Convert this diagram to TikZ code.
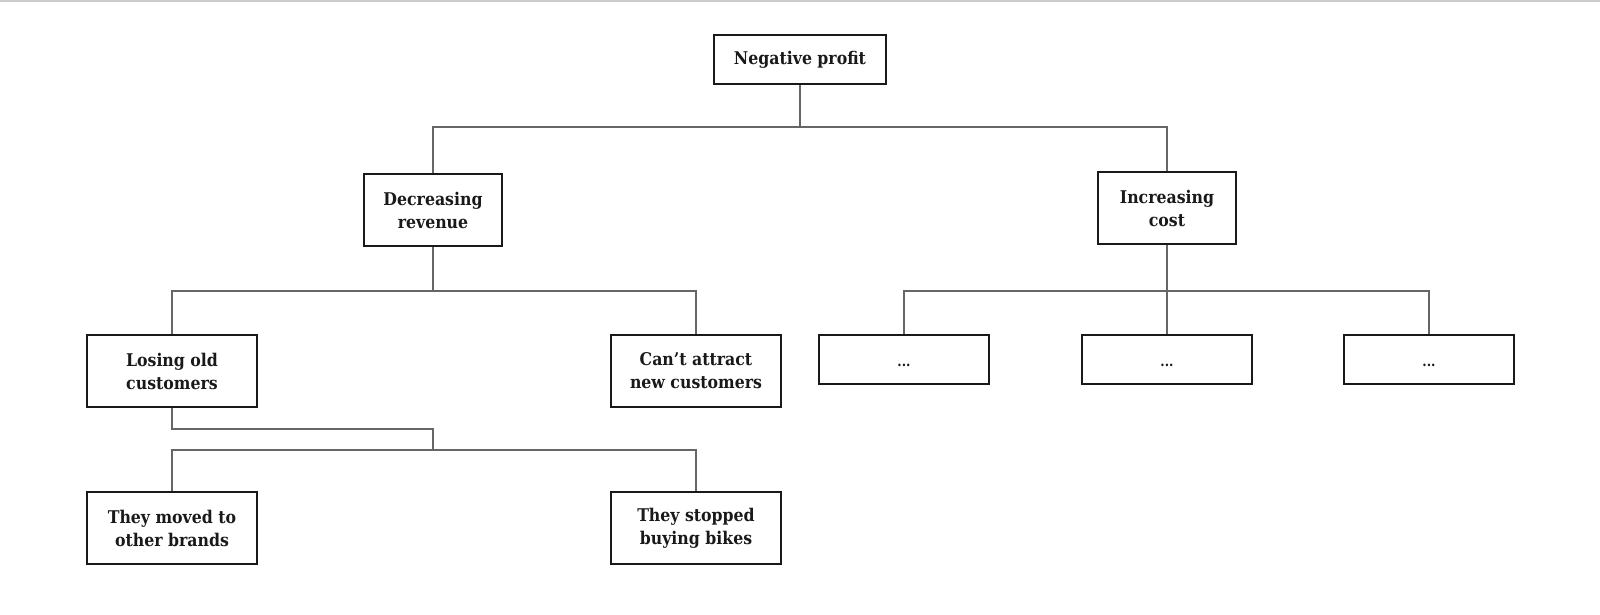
\documentclass[tikz,border=0pt]{standalone}
\usepackage{fontspec}
\setmainfont{DejaVu Serif Condensed}
\begin{document}
\begin{tikzpicture}[x=1pt,y=-1pt,
  box/.style={draw=black!90, line width=1.7pt, fill=white, align=center, inner sep=0pt,
    font=\bfseries\fontsize{17.5}{23}\selectfont, text=black!90},
  dots/.style={box, minimum width=170pt, minimum height=49pt, text height=13pt, text depth=0pt,
    font=\bfseries\fontsize{14}{16}\selectfont},
  conn/.style={draw=black!60, line width=1.7pt}]
\useasboundingbox (0,0) rectangle (1600,615);
\draw[black!20, line width=2pt] (0,1) -- (1600,1);
% nodes
\node[box, minimum width=172pt, minimum height=49pt] (np) at (800,59.5) {Negative profit};
\node[box, minimum width=138pt, minimum height=72pt] (dr) at (433,210) {Decreasing\\revenue};
\node[box, minimum width=138pt, minimum height=72pt] (ic) at (1167,208) {Increasing\\cost};
\node[box, minimum width=170pt, minimum height=72pt] (lo) at (172,371) {Losing old\\customers};
\node[box, minimum width=170pt, minimum height=72pt] (ca) at (696,371) {Can’t attract\\new customers};
\node[dots] (d1) at (904,359.5) {...};
\node[dots] (d2) at (1167,359.5) {...};
\node[dots] (d3) at (1429,359.5) {...};
\node[box, minimum width=170pt, minimum height=72pt] (mv) at (172,528) {They moved to\\other brands};
\node[box, minimum width=170pt, minimum height=72pt] (sb) at (696,528) {They stopped\\buying bikes};
% junctions
\coordinate (j1) at (800,127);
\coordinate (j2) at (433,291);
\coordinate (j3) at (1167,291);
\coordinate (j4a) at (433,429);
\coordinate (j4b) at (433,450);
% connectors
\draw[conn] (np.south) -- (j1);
\draw[conn] (dr.north) |- (j1) -| (ic.north);
\draw[conn] (dr.south) -- (j2);
\draw[conn] (lo.north) |- (j2) -| (ca.north);
\draw[conn] (ic.south) -- (j3);
\draw[conn] (d1.north) |- (j3) -| (d3.north);
\draw[conn] (j3) -- (d2.north);
\draw[conn] (lo.south) |- (j4a) -- (j4b);
\draw[conn] (mv.north) |- (j4b) -| (sb.north);
\end{tikzpicture}
\end{document}
